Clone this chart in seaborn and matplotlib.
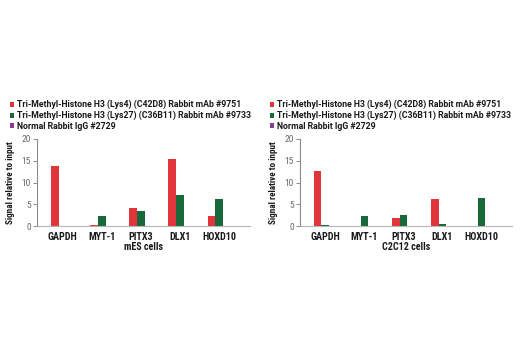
import matplotlib
matplotlib.use("Agg")
import matplotlib.pyplot as plt
import seaborn as sns
import pandas as pd
from matplotlib.patches import Patch

genes = ["GAPDH", "MYT-1", "PITX3", "DLX1", "HOXD10"]
series = ["Tri-Methyl-Histone H3 (Lys4) (C42D8) Rabbit mAb #9751",
          "Tri-Methyl-Histone H3 (Lys27) (C36B11) Rabbit mAb #9733",
          "Normal Rabbit IgG #2729"]
colors = ["#e0353b", "#17693a", "#8b3a94"]

mes_k4 = [13.9, 0.2, 4.25, 15.4, 2.3]
mes_k27 = [0.1, 2.4, 3.45, 7.2, 6.15]
mes_igg = [0.0, 0.0, 0.0, 0.0, 0.0]

c2_k4 = [12.6, 0.08, 1.95, 6.3, 0.05]
c2_k27 = [0.15, 2.3, 2.6, 0.55, 6.55]
c2_igg = [0.0, 0.0, 0.0, 0.0, 0.0]

panels = [("mES cells", [mes_k4, mes_k27, mes_igg]),
          ("C2C12 cells", [c2_k4, c2_k27, c2_igg])]

sns.set_style("white")
cond = ["Roboto Condensed", "Archivo Narrow", "DejaVu Sans"]
plt.rcParams["font.family"] = cond

fig = plt.figure(figsize=(5.2, 3.5), dpi=100)
W, H = 520, 350
ax_px = [(37, 250), (300, 512)]
y_top, y_bot = 139, 226
leg_x = [10, 270]

for i, (title, vals) in enumerate(panels):
    x0, x1 = ax_px[i]
    ax = fig.add_axes([x0 / W, 1 - y_bot / H, (x1 - x0) / W, (y_bot - y_top) / H])
    rows = []
    for s, v in zip(series, vals):
        for g, val in zip(genes, v):
            rows.append({"gene": g, "series": s, "value": val})
    df = pd.DataFrame(rows)
    sns.barplot(data=df, x="gene", y="value", hue="series", hue_order=series,
                palette=colors, width=0.6, ax=ax, legend=False,
                saturation=1, linewidth=0)
    ax.set_ylim(0, 20)
    ax.set_yticks([0, 5, 10, 15, 20])
    ax.set_xlim(-0.65, 4.78)
    for sp in ["top", "right"]:
        ax.spines[sp].set_visible(False)
    ax.spines["left"].set_color("#8a8a8a")
    ax.spines["left"].set_linewidth(0.8)
    ax.spines["bottom"].set_color("#b5b5b5")
    ax.spines["bottom"].set_linewidth(0.8)
    ax.tick_params(axis="y", left=True, length=3, width=0.7, color="#8a8a8a",
                   labelsize=6.8, labelcolor="#6a6a6a", pad=1.5)
    ax.tick_params(axis="x", bottom=False, labelsize=7.3, pad=0.6)
    for lab in ax.get_xticklabels():
        lab.set_fontweight("bold")
        lab.set_color("#1a1a1a")
    ax.set_xlabel(title, fontsize=7.2, fontweight="bold", labelpad=0, color="#1a1a1a")
    ax.set_ylabel("Signal relative to input", fontsize=6.6, fontweight="bold",
                  labelpad=4.5, color="#1a1a1a")
    handles = [Patch(facecolor=c, edgecolor="none") for c in colors]
    leg = fig.legend(handles, series, loc="upper left",
                     bbox_to_anchor=(leg_x[i] / W, 1 - 100 / H),
                     frameon=False, handlelength=0.45, handleheight=0.55,
                     handletextpad=0.4, labelspacing=0.18, borderpad=0,
                     borderaxespad=0,
                     prop={"family": ["Roboto", "DejaVu Sans"], "weight": "bold", "size": 6.3})
    for t in leg.get_texts():
        t.set_color("#1a1a1a")

fig.savefig("out.png", dpi=100)
